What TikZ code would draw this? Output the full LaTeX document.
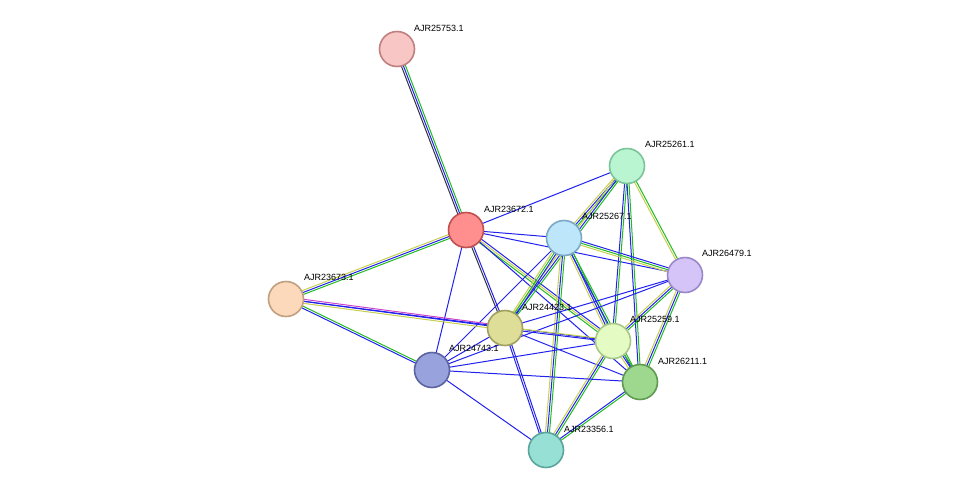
\documentclass[tikz,border=0pt]{standalone}
\usepackage{fontspec}
\setmainfont{Liberation Sans}
\usetikzlibrary{calc}
\definecolor{eg}{HTML}{22BB22}
\definecolor{eb}{HTML}{2222EE}
\definecolor{ey}{HTML}{C8D050}
\definecolor{ek}{HTML}{333344}
\definecolor{em}{HTML}{CC44CC}
\tikzset{
  prot/.style={circle,draw,line width=1.6pt,minimum size=35pt,inner sep=0pt},
  lab/.style={font=\fontsize{9}{10}\selectfont,anchor=west,inner sep=0pt},
  ln/.style={line width=1pt}
}
\newcommand{\pedge}[3]{%
  \foreach \c [count=\i from 0] in {#3} {%
    \pgfmathsetmacro{\off}{(\i-0.5*(\the\numexpr0\fi\relax))}
  }%
}
% edge with up to three parallel strands
\newcommand{\eone}[3]{\draw[ln,#3] (#1) -- (#2);}
\newcommand{\etwo}[4]{%
  \draw[ln,#3] ($(#1)!1pt!90:(#2)$) -- ($(#2)!1pt!-90:(#1)$);
  \draw[ln,#4] ($(#1)!1pt!-90:(#2)$) -- ($(#2)!1pt!90:(#1)$);}
\newcommand{\ethree}[5]{%
  \draw[ln,#3] ($(#1)!2pt!90:(#2)$) -- ($(#2)!2pt!-90:(#1)$);
  \draw[ln,#4] (#1) -- (#2);
  \draw[ln,#5] ($(#1)!2pt!-90:(#2)$) -- ($(#2)!2pt!90:(#1)$);}
\begin{document}
\begin{tikzpicture}[x=1pt,y=-1pt]
\useasboundingbox[fill=white] (0,0) rectangle (975,496);
\coordinate (A) at (397,49);
\coordinate (B) at (627,166);
\coordinate (C) at (466,230);
\coordinate (D) at (564,238);
\coordinate (E) at (685,275);
\coordinate (F) at (286,299);
\coordinate (G) at (505,328);
\coordinate (H) at (613,341);
\coordinate (I) at (432,370);
\coordinate (J) at (640,382);
\coordinate (K) at (546,450);
% edges
\ethree{A}{C}{eg}{eb}{ek}
\eone{C}{B}{eb}
\eone{C}{D}{eb}
\eone{C}{E}{eb}
\ethree{C}{F}{eg}{eb}{ey}
\etwo{C}{G}{eb}{ek}
\ethree{C}{H}{eb}{ey}{eg}
\eone{C}{J}{eb}
\eone{C}{I}{eb}
\ethree{B}{D}{eg}{eb}{ey}
\etwo{B}{E}{eg}{ey}
\etwo{B}{H}{eg}{eb}
\etwo{B}{J}{eg}{eb}
\ethree{B}{G}{eg}{eb}{ey}
\ethree{D}{E}{eb}{eg}{ey}
\ethree{D}{G}{eb}{eg}{ey}
\eone{D}{I}{eb}
\ethree{D}{H}{eg}{eb}{ey}
\etwo{D}{J}{eg}{eb}
\ethree{D}{K}{eg}{eb}{ey}
\ethree{E}{H}{eg}{eb}{ey}
\ethree{E}{J}{eg}{eb}{ey}
\eone{E}{I}{eb}
\eone{E}{G}{eb}
\ethree{F}{G}{em}{eb}{ey}
\eone{F}{H}{eb}
\etwo{F}{I}{eg}{eb}
\etwo{G}{H}{ey}{eb}
\eone{G}{J}{eb}
\eone{G}{I}{eb}
\etwo{G}{K}{eb}{eb}
\ethree{H}{J}{eg}{eb}{ey}
\ethree{H}{K}{eg}{eb}{ey}
\eone{H}{I}{eb}
\eone{J}{I}{eb}
\etwo{J}{K}{eg}{eb}
\eone{I}{K}{eb}
% nodes
\node[prot,fill={rgb,255:red,249;green,198;blue,198},draw={rgb,255:red,192;green,128;blue,128}] (nA) at (A) {};
\node[prot,fill={rgb,255:red,184;green,245;blue,208},draw={rgb,255:red,124;green,196;blue,154}] (nB) at (B) {};
\node[prot,fill={rgb,255:red,255;green,143;blue,143},draw={rgb,255:red,192;green,80;blue,80}] (nC) at (C) {};
\node[prot,fill={rgb,255:red,189;green,230;blue,251},draw={rgb,255:red,122;green,168;blue,200}] (nD) at (D) {};
\node[prot,fill={rgb,255:red,212;green,196;blue,248},draw={rgb,255:red,154;green,136;blue,200}] (nE) at (E) {};
\node[prot,fill={rgb,255:red,253;green,217;blue,187},draw={rgb,255:red,192;green,160;blue,128}] (nF) at (F) {};
\node[prot,fill={rgb,255:red,222;green,222;blue,153},draw={rgb,255:red,160;green,160;blue,96}] (nG) at (G) {};
\node[prot,fill={rgb,255:red,228;green,252;blue,196},draw={rgb,255:red,168;green,200;blue,136}] (nH) at (H) {};
\node[prot,fill={rgb,255:red,152;green,163;blue,222},draw={rgb,255:red,90;green,100;blue,160}] (nI) at (I) {};
\node[prot,fill={rgb,255:red,158;green,216;blue,142},draw={rgb,255:red,95;green,154;blue,80}] (nJ) at (J) {};
\node[prot,fill={rgb,255:red,151;green,224;blue,214},draw={rgb,255:red,90;green,165;blue,156}] (nK) at (K) {};
% labels
\node[lab] (lA) at ($(A)+(17,-21)$) {AJR25753.1};
\node[lab] (lB) at ($(B)+(18,-22)$) {AJR25261.1};
\node[lab] (lC) at ($(C)+(18,-21)$) {AJR23672.1};
\node[lab] (lD) at ($(D)+(18,-22)$) {AJR25267.1};
\node[lab] (lE) at ($(E)+(17,-22)$) {AJR26479.1};
\node[lab] (lF) at ($(F)+(18,-22)$) {AJR23673.1};
\node[lab] (lG) at ($(G)+(17,-21)$) {AJR24423.1};
\node[lab] (lH) at ($(H)+(17,-22)$) {AJR25259.1};
\node[lab] (lI) at ($(I)+(17,-22)$) {AJR24743.1};
\node[lab] (lJ) at ($(J)+(18,-21)$) {AJR26211.1};
\node[lab] (lK) at ($(K)+(18,-21)$) {AJR23356.1};
\end{tikzpicture}
\end{document}
